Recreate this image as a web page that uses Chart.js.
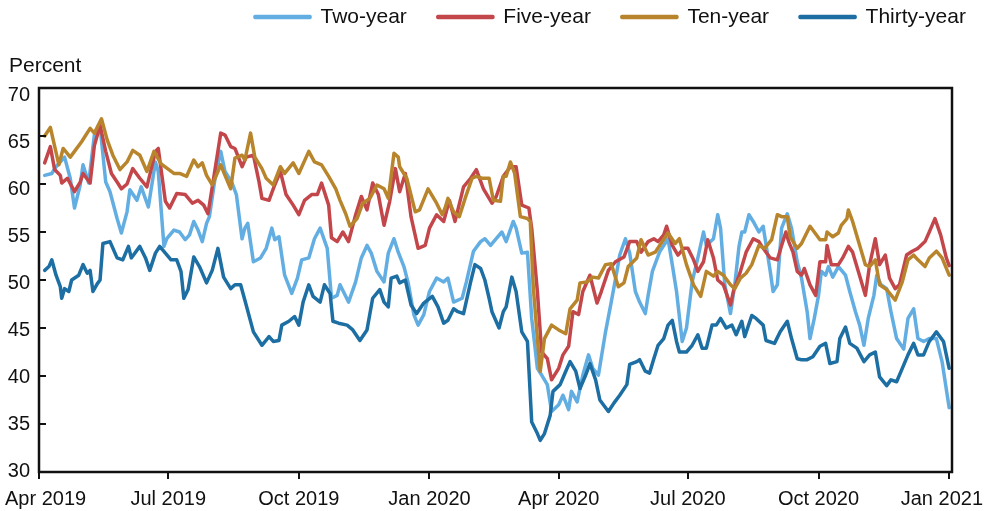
<!DOCTYPE html>
<html lang="en">
<head>
<meta charset="UTF-8">
<title>Treasury yields</title>
<style>
  body { margin: 0; background: #fff; }
  #chart { display: block; }
</style>
</head>
<body>
<canvas id="chart" width="987" height="511"></canvas>
<script src="https://cdn.jsdelivr.net/npm/chart.js"></script>
<script>
// x values are days counted from 1 Apr 2019
const tickDays = [0, 91, 183, 275, 366, 457, 549, 641];
const tickLabels = ['Apr 2019', 'Jul 2019', 'Oct 2019', 'Jan 2020', 'Apr 2020', 'Jul 2020', 'Oct 2020', 'Jan 2021'];
const yTicks = [30, 35, 40, 45, 50, 55, 60, 65, 70];
const seriesNames = ['Two-year', 'Five-year', 'Ten-year', 'Thirty-year'];
const seriesColors = ['#62aee2', '#c3474a', '#b8852c', '#1c6ea3'];

const twoYear = [
  [4,60.9],[9,61.1],[12,61.8],[18,62.8],[22,60.6],[25,57.5],[29,59.9],[31,62.0],[35,60.1],[39,65.1],
  [43,66.0],[47,60.2],[50,59.2],[55,56.4],[58,54.9],[62,57.1],[64,59.4],[69,58.3],[72,59.7],[77,57.6],
  [82,62.3],[84,61.3],[88,53.5],[90,54.3],[95,55.2],[99,55.0],[103,54.2],[106,54.7],[109,56.1],[112,55.2],
  [115,54.0],[118,55.9],[120,56.6],[124,60.6],[128,63.4],[131,61.3],[136,60.1],[139,58.9],[143,54.3],[145,55.4],
  [147,55.9],[151,51.9],[156,52.3],[160,53.3],[164,55.4],[166,54.2],[169,54.5],[173,50.5],[178,48.6],[182,50.2],
  [185,52.1],[190,52.3],[194,54.3],[198,55.4],[203,53.3],[206,48.1],[210,48.4],[212,49.5],[218,47.7],[223,49.8],
  [227,52.3],[231,53.6],[234,52.8],[238,50.9],[243,49.8],[246,52.8],[250,54.3],[253,52.9],[257,51.4],[260,49.7],
  [264,46.4],[267,45.3],[271,46.4],[275,48.8],[280,50.2],[285,49.8],[288,50.2],[292,47.7],[298,48.1],[301,49.8],
  [306,53.0],[311,54.0],[314,54.3],[318,53.6],[322,54.3],[326,55.0],[329,54.0],[334,56.1],[336,55.4],[340,52.8],
  [344,52.9],[347,46.0],[351,40.8],[354,40.1],[358,39.1],[361,36.3],[366,37.0],[369,38.0],[373,36.5],[375,38.4],
  [379,37.3],[383,40.1],[387,42.2],[390,40.8],[394,40.1],[399,44.6],[403,47.7],[407,50.9],[409,52.6],[413,54.3],
  [416,52.8],[420,48.8],[423,47.7],[427,46.5],[429,48.4],[432,50.9],[437,52.9],[443,54.3],[446,51.6],[449,48.8],
  [453,43.6],[456,45.0],[460,49.8],[464,52.3],[468,55.0],[470,53.6],[475,54.3],[478,56.8],[480,55.4],[483,49.5],
  [487,46.5],[490,49.5],[493,53.5],[495,55.0],[497,55.0],[500,56.8],[503,56.1],[507,55.0],[510,55.6],[515,50.9],
  [517,48.8],[520,49.5],[523,55.4],[527,56.9],[530,55.4],[534,51.9],[537,50.2],[541,46.7],[543,43.9],[546,46.0],
  [549,48.4],[551,50.9],[554,50.5],[556,51.4],[559,50.3],[563,51.4],[568,50.5],[571,48.8],[575,46.7],[578,45.3],
  [581,43.2],[584,46.0],[588,48.4],[590,50.5],[593,49.5],[597,49.1],[600,46.7],[604,43.9],[609,42.8],[612,46.0],
  [616,47.0],[619,43.9],[623,43.6],[627,43.9],[632,43.9],[636,41.5],[641,36.7]
];

const fiveYear = [
  [4,62.2],[8,63.9],[11,61.5],[15,60.9],[16,60.1],[20,60.6],[24,59.5],[25,59.2],[29,60.2],[31,61.1],
  [36,60.1],[39,64.0],[43,66.1],[47,63.4],[51,61.1],[55,60.2],[58,59.5],[62,60.0],[66,61.6],[71,60.6],
  [76,59.7],[82,63.4],[84,63.7],[89,58.2],[92,57.5],[97,59.0],[103,58.9],[108,58.0],[112,58.3],[116,57.8],
  [119,56.9],[123,60.6],[128,65.3],[131,65.1],[135,63.9],[138,63.7],[143,61.8],[146,62.8],[151,63.0],[155,60.2],
  [157,58.5],[162,58.3],[166,59.9],[170,61.3],[174,58.9],[179,57.8],[183,56.8],[187,58.3],[192,58.9],[196,58.9],
  [199,60.1],[204,57.8],[206,54.4],[210,54.0],[214,55.0],[218,54.0],[223,56.8],[227,58.7],[231,57.3],[235,60.1],
  [239,58.9],[243,55.7],[247,58.2],[251,61.6],[254,59.2],[258,61.1],[262,56.6],[267,53.3],[272,53.6],[275,55.4],
  [280,56.8],[285,56.1],[289,58.3],[293,56.1],[299,59.7],[304,60.6],[308,61.5],[313,59.5],[319,58.0],[322,58.7],
  [327,60.8],[332,61.8],[336,61.8],[340,57.8],[345,57.5],[347,55.4],[351,48.8],[354,42.5],[358,41.8],[361,39.6],
  [366,40.8],[369,42.2],[373,43.1],[376,46.7],[380,46.4],[383,48.8],[388,50.5],[393,47.6],[396,48.8],[401,51.0],
  [406,51.9],[412,52.4],[416,54.0],[421,54.0],[424,52.9],[429,54.0],[433,54.3],[436,54.0],[440,54.7],[442,55.6],
  [446,53.6],[450,52.6],[454,53.3],[457,53.3],[461,52.1],[464,50.9],[468,51.9],[471,54.2],[475,52.3],[478,50.0],
  [482,49.5],[487,47.4],[489,48.8],[494,50.9],[498,52.9],[503,54.3],[507,54.0],[510,53.3],[515,52.3],[520,52.1],
  [523,53.6],[526,55.0],[528,54.0],[531,52.9],[534,50.9],[537,50.5],[539,51.2],[543,49.5],[547,48.4],[550,51.9],
  [554,51.9],[555,53.6],[558,51.6],[563,51.6],[566,52.3],[570,53.5],[573,52.9],[577,50.9],[582,48.4],[585,51.6],
  [589,54.3],[592,51.6],[596,52.6],[599,50.2],[603,49.1],[606,49.5],[611,52.6],[615,53.0],[619,53.3],[624,54.0],
  [627,55.0],[631,56.4],[635,54.7],[639,52.3],[641,51.5]
];

const tenYear = [
  [4,65.0],[8,65.9],[14,62.0],[17,63.7],[22,62.8],[25,63.4],[30,64.4],[36,65.8],[39,65.3],[44,66.8],
  [48,64.6],[52,63.0],[57,61.5],[62,62.3],[66,63.5],[71,63.0],[76,61.3],[81,63.4],[86,62.1],[95,61.1],
  [99,61.1],[104,60.8],[109,62.5],[112,61.8],[115,62.2],[118,60.9],[122,59.9],[128,62.0],[131,60.9],[135,59.5],
  [138,62.7],[143,63.0],[145,62.5],[149,65.3],[152,62.8],[157,61.6],[160,60.6],[165,59.9],[170,61.8],[173,61.1],
  [179,62.2],[183,61.1],[190,63.4],[194,62.3],[199,62.0],[204,60.8],[209,59.5],[212,58.3],[216,56.9],[219,55.6],
  [224,56.4],[228,58.0],[233,58.5],[238,59.9],[243,59.5],[246,58.5],[250,63.2],[253,62.8],[254,61.8],[259,60.6],
  [265,57.1],[268,57.3],[274,59.5],[280,58.0],[284,56.8],[286,57.5],[288,58.5],[292,57.1],[296,56.6],[301,58.9],
  [305,60.6],[308,60.8],[312,60.6],[317,60.6],[320,58.3],[325,58.2],[327,60.8],[329,60.8],[332,62.3],[335,61.1],
  [339,56.6],[344,56.4],[346,56.1],[348,49.5],[351,43.9],[353,40.5],[356,43.9],[361,45.3],[366,44.8],[371,44.4],
  [374,47.0],[379,47.9],[381,49.7],[386,49.8],[390,50.3],[394,50.2],[399,51.6],[403,51.7],[408,49.3],[412,49.7],
  [415,51.4],[421,52.3],[424,54.2],[429,52.6],[434,52.9],[439,54.0],[443,54.9],[448,53.8],[451,54.3],[456,51.6],
  [461,49.5],[466,48.3],[470,50.9],[475,50.4],[478,50.9],[482,50.5],[487,49.5],[490,49.1],[494,50.2],[498,50.7],
  [502,51.6],[507,53.6],[511,53.3],[516,54.2],[520,56.8],[523,56.6],[527,56.6],[529,54.5],[534,53.3],[537,53.8],
  [543,55.6],[546,55.0],[550,54.2],[554,54.2],[555,55.0],[559,54.5],[563,54.9],[565,55.7],[569,56.4],[570,57.3],
  [573,56.1],[578,53.6],[582,51.6],[585,51.4],[589,52.1],[592,49.5],[597,49.0],[603,47.9],[608,49.8],[612,52.1],
  [616,52.6],[619,52.1],[624,51.4],[627,52.3],[632,53.0],[636,52.3],[641,50.5]
];

const thirtyYear = [
  [4,51.0],[7,51.4],[9,52.1],[12,50.5],[15,49.3],[16,48.1],[18,49.1],[21,48.8],[23,50.0],[28,50.5],
  [31,51.6],[34,50.7],[36,51.0],[38,48.8],[41,49.6],[43,50.0],[45,53.8],[50,54.0],[55,52.3],[59,52.1],
  [63,53.5],[65,52.3],[71,53.5],[75,52.3],[78,51.0],[82,52.8],[85,53.5],[89,52.8],[93,52.1],[97,52.1],
  [100,50.9],[102,48.1],[105,49.0],[109,52.4],[113,51.4],[118,49.7],[122,51.0],[126,53.3],[130,50.3],[135,49.1],
  [138,49.5],[142,49.5],[145,47.9],[151,44.6],[157,43.2],[162,44.1],[165,43.6],[169,43.7],[171,45.3],[176,45.7],
  [180,46.2],[183,45.3],[186,47.7],[190,49.5],[193,48.3],[198,47.7],[201,49.5],[205,48.6],[207,45.7],[211,45.5],
  [217,45.3],[221,44.8],[226,43.7],[231,44.8],[235,48.1],[240,49.0],[243,47.7],[246,47.2],[248,50.2],[252,50.4],
  [254,49.7],[258,50.0],[262,47.4],[266,46.5],[271,47.6],[277,48.3],[281,47.2],[285,45.5],[288,45.8],[292,47.0],
  [295,46.7],[299,46.5],[304,49.8],[307,51.6],[311,51.2],[314,50.0],[317,48.1],[319,46.7],[324,45.0],[327,46.7],
  [329,47.2],[333,50.3],[336,48.8],[340,44.6],[344,43.6],[347,35.2],[351,34.0],[353,33.3],[356,34.0],[360,35.9],
  [362,38.4],[367,39.1],[371,40.5],[374,41.5],[378,40.5],[381,38.7],[385,40.1],[388,41.3],[392,39.6],[395,37.5],
  [401,36.3],[405,37.2],[409,38.0],[414,39.1],[416,41.2],[421,41.5],[423,41.7],[427,40.5],[430,40.3],[433,41.8],
  [436,43.2],[440,43.9],[443,45.3],[446,45.8],[449,43.6],[451,42.5],[456,42.5],[460,43.2],[464,44.3],[467,42.9],
  [470,42.9],[474,45.3],[477,45.3],[480,46.0],[484,45.0],[488,45.3],[491,44.3],[495,45.7],[497,44.1],[502,46.3],
  [505,46.0],[510,45.3],[512,43.7],[518,43.4],[522,44.6],[527,45.7],[530,43.9],[534,41.8],[537,41.7],[541,41.7],
  [545,42.0],[550,43.1],[554,43.4],[557,41.3],[562,41.5],[564,43.9],[568,45.1],[571,43.4],[576,42.9],[581,41.5],
  [585,42.2],[589,42.5],[592,39.9],[597,39.0],[600,39.6],[604,39.4],[608,40.8],[612,42.2],[616,43.4],[619,42.2],
  [623,42.2],[627,43.6],[632,44.6],[637,43.6],[641,40.8]
];

const seriesData = [twoYear, fiveYear, tenYear, thirtyYear];
const FONT = '"Liberation Sans", Arial, sans-serif';
const INK = '#111';
const LEGEND_PAD = 31;

Chart.defaults.font.family = FONT;
Chart.defaults.font.size = 21;
Chart.defaults.color = INK;

// box around the plot, inward y ticks, tick labels kept inside the canvas, unit label
const framePlugin = {
  id: 'frame',
  afterDraw(chart) {
    const { ctx, chartArea: a, width } = chart;
    const x = chart.scales.x, y = chart.scales.y;
    ctx.save();
    ctx.strokeStyle = INK;
    ctx.fillStyle = INK;
    ctx.lineWidth = 2;
    yTicks.forEach(v => {
      const py = Math.round(y.getPixelForValue(v));
      ctx.beginPath();
      ctx.moveTo(a.left, py);
      ctx.lineTo(a.left + 7, py);
      ctx.stroke();
    });
    ctx.lineWidth = 2.5;
    ctx.strokeRect(a.left, a.top, a.right - a.left, a.bottom - a.top);

    ctx.font = '20px ' + FONT;
    ctx.textAlign = 'right';
    ctx.textBaseline = 'middle';
    // the reference's labels drift a little below their ticks toward the top
    yTicks.forEach(v => {
      const py = y.getPixelForValue(v) + (v - 30) * 0.22 - 1;
      ctx.fillText(String(v), a.left - 9, py);
    });

    ctx.textAlign = 'left';
    ctx.textBaseline = 'alphabetic';
    tickDays.forEach((d, i) => {
      const w = ctx.measureText(tickLabels[i]).width;
      let left = x.getPixelForValue(d) - w / 2;
      left = Math.max(5, Math.min(left, width - 4 - w));
      ctx.fillText(tickLabels[i], left, 505);
    });

    ctx.font = '21px ' + FONT;
    ctx.fillText('Percent', 9, 72);
    ctx.restore();
  }
};

// move the legend row up to the top edge, starting where the reference has it
const legendPlacement = {
  id: 'legendPlacement',
  afterLayout(chart) {
    const lg = chart.legend;
    const dy = 17 - (lg.top + LEGEND_PAD + 10.5);
    const dx = 255 - (lg.right - lg.lineWidths[0]);
    lg.top += dy; lg.bottom += dy;
    lg.left += dx; lg.right += dx;
  }
};

new Chart(document.getElementById('chart'), {
  type: 'line',
  data: {
    datasets: seriesNames.map((name, i) => ({
      label: name,
      data: seriesData[i].map(p => ({ x: p[0], y: p[1] })),
      borderColor: seriesColors[i],
      backgroundColor: seriesColors[i],
      borderWidth: 3.5,
      borderJoinStyle: 'round',
      borderCapStyle: 'round',
      pointRadius: 0,
      tension: 0,
      order: seriesNames.length - i
    }))
  },
  options: {
    responsive: false,
    animation: false,
    events: [],
    layout: { padding: { top: 26, right: 35, bottom: 0, left: 0 } },
    plugins: {
      tooltip: { enabled: false },
      legend: {
        position: 'top',
        align: 'end',
        labels: {
          boxWidth: 55,
          boxHeight: 1,
          padding: LEGEND_PAD,
          color: INK,
          font: { size: 21 },
          sort: (a, b) => a.datasetIndex - b.datasetIndex
        }
      }
    },
    scales: {
      x: {
        type: 'linear',
        min: 0,
        max: 643,
        border: { display: false },
        grid: { drawOnChartArea: false, drawTicks: true, tickLength: 7, color: INK, lineWidth: 2 },
        afterBuildTicks: s => { s.ticks = tickDays.map(v => ({ value: v })); },
        ticks: { display: false },
        afterFit: s => { s.height = 39; s.paddingLeft = 0; s.paddingRight = 0; }
      },
      y: {
        min: 30,
        max: 70,
        border: { display: false },
        grid: { drawOnChartArea: false, drawTicks: false },
        ticks: { display: false, stepSize: 5 },
        afterFit: s => { s.width = 39; s.paddingTop = 0; s.paddingBottom = 0; }
      }
    }
  },
  plugins: [framePlugin, legendPlacement]
});
</script>
</body>
</html>
